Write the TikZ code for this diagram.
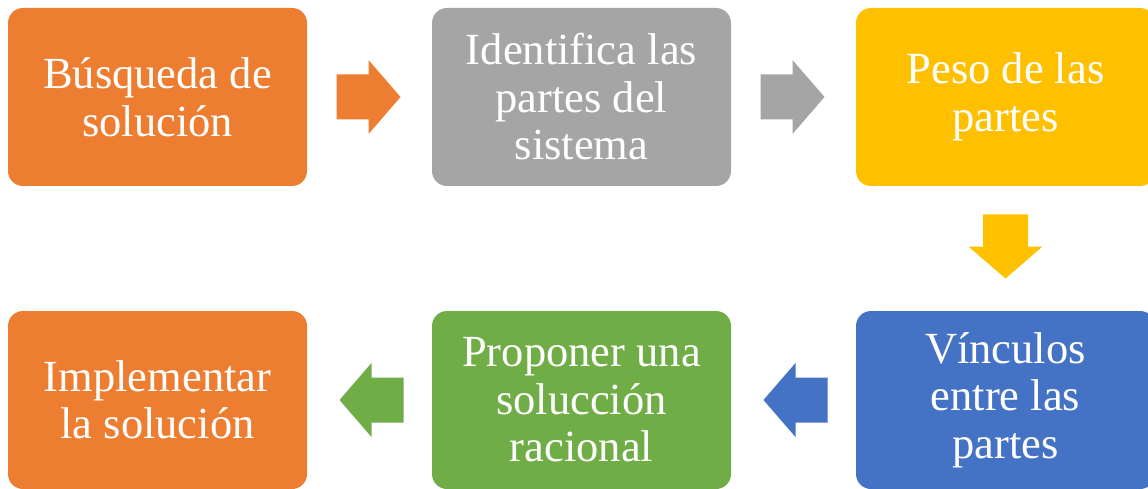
\documentclass[tikz,border=0pt]{standalone}
\usepackage{fontspec}
\setmainfont{Liberation Serif}
\usetikzlibrary{calc}
\definecolor{corange}{HTML}{ED7D31}
\definecolor{cgray}{HTML}{A5A5A5}
\definecolor{cgold}{HTML}{FFC000}
\definecolor{cblue}{HTML}{4472C4}
\definecolor{cgreen}{HTML}{70AD47}
\tikzset{
  stepbox/.style={draw=none, rounded corners=15pt, minimum width=299pt, minimum height=178pt,
    inner sep=0pt, align=center, text=white, font=\fontsize{44.5}{47.5}\selectfont},
  blockarrow/.pic={\fill[pic actions] (-32,-22.5) -- (0,-22.5) -- (0,-37) -- (32,0) -- (0,37) -- (0,22.5) -- (-32,22.5) -- cycle;}
}
\begin{document}
\begin{tikzpicture}[x=1pt,y=-1pt]
\useasboundingbox (0,0) rectangle (1148,489);
\clip (0,0) rectangle (1148,489);
\node[stepbox, fill=corange] (b1) at (157.5,97) {Búsqueda de\\solución};
\node[stepbox, fill=cgray] (b2) at (581.5,97) {Identifica las\\partes del\\sistema};
\node[stepbox, fill=cgold] (b3) at (1005.5,97) {Peso de las\\partes};
\node[stepbox, fill=cblue] (b4) at (1005.5,400) {Vínculos\\entre las\\partes};
\node[stepbox, fill=cgreen] (b5) at (581.5,400) {Proponer una\\solucción\\racional};
\node[stepbox, fill=corange] (b6) at (157.5,400) {Implementar\\la solución};
\coordinate (a1) at ($(b1.east)!0.5!(b2.west)+(-1,0)$);
\coordinate (a2) at ($(b2.east)!0.5!(b3.west)+(-1,0)$);
\coordinate (a3) at ($(b3.south)!0.5!(b4.north)+(0,-2)$);
\coordinate (a4) at ($(b4.west)!0.5!(b5.east)+(2,0)$);
\coordinate (a5) at ($(b5.west)!0.5!(b6.east)+(2,0)$);
\pic[fill=corange] at (a1) {blockarrow};
\pic[fill=cgray] at (a2) {blockarrow};
\pic[fill=cgold, rotate=-90] at (a3) {blockarrow};
\pic[fill=cblue, rotate=180] at (a4) {blockarrow};
\pic[fill=cgreen, rotate=180] at (a5) {blockarrow};
\end{tikzpicture}
\end{document}
